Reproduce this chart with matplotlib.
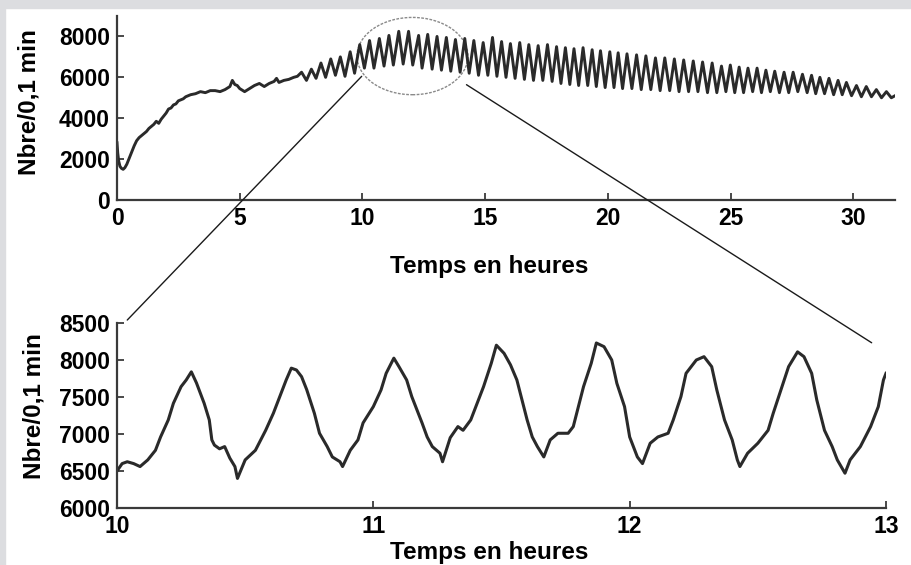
import numpy as np
import matplotlib
matplotlib.use("Agg")
import matplotlib.pyplot as plt
from matplotlib.patches import Ellipse, Rectangle, ConnectionPatch

plt.rcParams['font.family'] = ['Liberation Sans', 'DejaVu Sans']
plt.rcParams['font.weight'] = 'bold'

# ---- top panel: slow rise before the oscillations start (hours, counts/0.1 min)
pre_t = [0.0, 0.03, 0.07, 0.12, 0.18, 0.25, 0.32, 0.4, 0.5, 0.6, 0.7, 0.8, 0.9,
         1.0, 1.1, 1.2, 1.3, 1.4, 1.5, 1.6, 1.7, 1.8, 1.9, 2.0, 2.1, 2.2, 2.3,
         2.4, 2.5, 2.6, 2.7, 2.8, 2.9, 3.0, 3.2, 3.4, 3.6, 3.8, 4.0, 4.2, 4.4,
         4.6, 4.7, 4.8, 4.9, 5.0, 5.2, 5.4, 5.6, 5.8, 6.0, 6.2, 6.4, 6.5, 6.6,
         6.8, 7.0, 7.2, 7.35]
pre_v = [2800, 2300, 1900, 1650, 1550, 1500, 1580, 1750, 2050, 2350, 2650, 2900,
         3050, 3150, 3250, 3350, 3500, 3600, 3700, 3850, 3750, 3950, 4100, 4250,
         4450, 4500, 4650, 4700, 4850, 4900, 4950, 5050, 5100, 5150, 5200, 5300,
         5250, 5350, 5350, 5300, 5400, 5550, 5850, 5650, 5600, 5450, 5300, 5450,
         5600, 5700, 5550, 5700, 5800, 5950, 5750, 5850, 5900, 6000, 6050]

# ---- top panel: oscillation maxima and minima
peak_t = [7.52, 7.92, 8.31, 8.71, 9.10, 9.50, 9.89, 10.29, 10.69, 11.08, 11.48,
          11.88, 12.29, 12.66, 13.04, 13.42, 13.79, 14.17, 14.54, 14.92, 15.30,
          15.67, 16.03, 16.41, 16.78, 17.16, 17.54, 17.91, 18.27, 18.62, 18.99,
          19.36, 19.70, 20.08, 20.42, 20.78, 21.17, 21.55, 21.94, 22.32, 22.71,
          23.09, 23.48, 23.86, 24.25, 24.63, 24.99, 25.35, 25.71, 26.08, 26.44,
          26.80, 27.18, 27.55, 27.93, 28.30, 28.64, 29.01, 29.38, 29.72, 30.13,
          30.53, 30.94, 31.35]
peak_v = [6250, 6400, 6700, 6900, 7000, 7250, 7600, 7800, 7900, 8050, 8250,
          8250, 8050, 8100, 8000, 7950, 7850, 7900, 7800, 7700, 7950,
          7750, 7650, 7700, 7600, 7550, 7600, 7500, 7450, 7400, 7450,
          7350, 7300, 7250, 7200, 7150, 7100, 7050, 6950, 6950, 6900,
          6850, 6800, 6750, 6700, 6550, 6600, 6500, 6450, 6450, 6350,
          6300, 6250, 6250, 6150, 6100, 6000, 5950, 5850, 5750, 5600,
          5550, 5400, 5300]
trough_t = [7.72, 8.11, 8.50, 8.90, 9.29, 9.68, 10.08, 10.47, 10.88, 11.26,
            11.66, 12.05, 12.43, 12.84, 13.22, 13.60, 13.98, 14.35, 14.73,
            15.11, 15.48, 15.85, 16.22, 16.60, 16.97, 17.35, 17.73, 18.09,
            18.45, 18.81, 19.18, 19.53, 19.89, 20.25, 20.60, 20.98, 21.36,
            21.75, 22.13, 22.52, 22.90, 23.29, 23.67, 24.06, 24.44, 24.81,
            25.17, 25.53, 25.90, 26.26, 26.62, 26.99, 27.37, 27.74, 28.12,
            28.47, 28.83, 29.20, 29.55, 29.93, 30.33, 30.74, 31.15, 31.55, 31.7]
trough_v = [5850, 5950, 6000, 6100, 6050, 6200, 6450, 6450, 6550, 6600,
            6650, 6600, 6450, 6400, 6350, 6300, 6250, 6200, 6100,
            6100, 6050, 6000, 5950, 5900, 5850, 5850, 5800, 5700,
            5650, 5600, 5600, 5550, 5500, 5500, 5450, 5450, 5400,
            5400, 5350, 5350, 5300, 5300, 5300, 5250, 5250, 5300,
            5250, 5250, 5300, 5250, 5300, 5250, 5250, 5300, 5250,
            5200, 5200, 5150, 5150, 5100, 5050, 5050, 5000, 5000, 5100]

# ---- bottom panel: zoom on 10 h - 13 h
zoom_t = [10.00, 10.02, 10.04, 10.065, 10.09, 10.12, 10.15, 10.17, 10.20, 10.22,
          10.25, 10.27, 10.29, 10.31, 10.34, 10.36, 10.37, 10.38, 10.40, 10.42,
          10.44, 10.46, 10.47, 10.50, 10.54, 10.58, 10.61, 10.64, 10.66, 10.68,
          10.70, 10.72, 10.74, 10.77, 10.79, 10.82, 10.84, 10.87, 10.88, 10.91,
          10.94, 10.96, 11.00, 11.03, 11.05, 11.08, 11.10, 11.13, 11.15, 11.19,
          11.21, 11.23, 11.26, 11.27, 11.30, 11.33, 11.35, 11.38, 11.40, 11.43,
          11.46, 11.48, 11.51, 11.535, 11.56, 11.58, 11.60, 11.62, 11.64, 11.665,
          11.69, 11.72, 11.76, 11.78, 11.80, 11.82, 11.85, 11.87, 11.90, 11.93,
          11.95, 11.98, 12.00, 12.03, 12.05, 12.08, 12.11, 12.15, 12.17, 12.20,
          12.22, 12.26, 12.29, 12.32, 12.34, 12.37, 12.40, 12.42, 12.43, 12.46,
          12.50, 12.54, 12.56, 12.59, 12.62, 12.655, 12.68, 12.71, 12.73, 12.76,
          12.79, 12.81, 12.84, 12.86, 12.90, 12.94, 12.97, 12.99, 13.00]
zoom_v = [6500, 6600, 6625, 6600, 6560, 6650, 6780, 6960, 7190, 7415,
          7640, 7730, 7840, 7690, 7415, 7190, 6920, 6850, 6800, 6830,
          6675, 6560, 6400, 6650, 6780, 7050, 7280, 7550, 7730, 7890,
          7865, 7775, 7600, 7280, 7010, 6830, 6690, 6625, 6560, 6780,
          6920, 7150, 7370, 7595, 7820, 8025, 7910, 7730, 7505, 7150,
          6960, 6830, 6740, 6625, 6950, 7100, 7050, 7190, 7370, 7640,
          7955, 8200, 8090, 7935, 7730, 7460, 7190, 6960, 6830, 6690,
          6920, 7010, 7010, 7100, 7370, 7640, 7955, 8230, 8180, 8000,
          7685, 7370, 6960, 6690, 6600, 6875, 6960, 7010, 7190, 7505,
          7820, 8000, 8045, 7910, 7595, 7190, 6920, 6650, 6560, 6740,
          6875, 7050, 7280, 7595, 7910, 8110, 8045, 7820, 7460, 7050,
          6830, 6650, 6470, 6650, 6830, 7100, 7370, 7730, 7820]

top_xticks = [0, 5, 10, 15, 20, 25, 30]
top_yticks = [0, 2000, 4000, 6000, 8000]
zoom_xticks = [10, 11, 12, 13]
zoom_yticks = [6000, 6500, 7000, 7500, 8000, 8500]

W, H = 912, 565
LINE = '#2a2a2a'
AXC = '#3a3a3a'
TICK_FS = 16.5
LABEL_FS = 17.5

fig = plt.figure(figsize=(W / 100, H / 100), dpi=100)
fig.patch.set_facecolor('white')
# light grey frame at the top and left edge
fig.patches.append(Rectangle((0, 1 - 8 / H), 1, 8 / H, transform=fig.transFigure,
                             color='#dcdde0', zorder=0))
fig.patches.append(Rectangle((0, 0), 5 / W, 1, transform=fig.transFigure,
                             color='#dcdde0', zorder=0))

ax1 = fig.add_axes([117 / W, 1 - 200 / H, 778 / W, 184 / H])
ax2 = fig.add_axes([117 / W, 1 - 508 / H, 769 / W, 185 / H])


def style(ax):
    for side in ('top', 'right'):
        ax.spines[side].set_visible(False)
    for side in ('left', 'bottom'):
        ax.spines[side].set_linewidth(1.6)
        ax.spines[side].set_color(AXC)
    ax.tick_params(direction='in', length=5, width=1.3, color=AXC,
                   labelsize=TICK_FS, pad=5)
    for lab in ax.get_xticklabels() + ax.get_yticklabels():
        lab.set_fontweight('bold')
    ax.patch.set_alpha(0)


# top panel
osc_t = np.concatenate([peak_t, trough_t])
osc_v = np.concatenate([peak_v, trough_v])
order = np.argsort(osc_t)
top_t = np.concatenate([pre_t, osc_t[order]])
top_v = np.concatenate([pre_v, osc_v[order]])
ax1.plot(top_t, top_v, color=LINE, lw=2.1)
ax1.set_xlim(0, 31.7)
ax1.set_ylim(0, 9000)
ax1.set_xticks(top_xticks)
ax1.set_yticks(top_yticks)
style(ax1)
ax1.set_xlabel('Temps en heures', fontsize=LABEL_FS, fontweight='bold')
ax1.xaxis.set_label_coords(0.478, -0.30)
ax1.set_ylabel('Nbre/0,1 min', fontsize=LABEL_FS, fontweight='bold')
ax1.yaxis.set_label_coords(-0.098, 0.53)

ell = Ellipse((12.04, 7040), 4.52, 3780, fill=False, edgecolor='#8a8a8a',
              lw=1.0, linestyle=(0, (2, 1)), clip_on=False)
ax1.add_patch(ell)

# bottom panel
ax2.plot(zoom_t, zoom_v, color=LINE, lw=2.2)
ax2.set_xlim(10, 13)
ax2.set_ylim(6000, 8500)
ax2.set_xticks(zoom_xticks)
ax2.set_yticks(zoom_yticks)
style(ax2)
ax2.set_xlabel('Temps en heures', fontsize=LABEL_FS, fontweight='bold')
ax2.xaxis.set_label_coords(0.484, -0.18)
ax2.set_ylabel('Nbre/0,1 min', fontsize=LABEL_FS, fontweight='bold')
ax2.yaxis.set_label_coords(-0.093, 0.55)

# lines linking the circled region to the zoom panel
for xy_top, xy_bot in [((9.97, 6050), (10.04, 8540)),
                       ((14.24, 5640), (12.944, 8233))]:
    con = ConnectionPatch(xyA=xy_top, coordsA=ax1.transData,
                          xyB=xy_bot, coordsB=ax2.transData,
                          color='#1a1a1a', lw=1.0)
    fig.add_artist(con)

fig.savefig('out.png', dpi=100)
